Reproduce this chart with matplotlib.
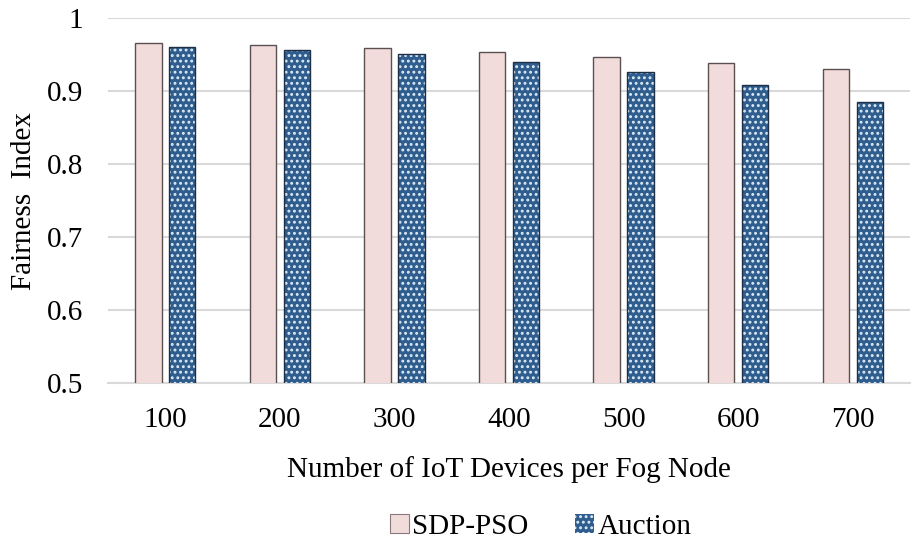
import numpy as np
import matplotlib.pyplot as plt
from matplotlib.patches import Patch

plt.rcParams['font.family'] = ['Liberation Serif', 'DejaVu Serif']
plt.rcParams['hatch.linewidth'] = 1.3

devices = ["100", "200", "300", "400", "500", "600", "700"]
sdp_pso = [0.966, 0.963, 0.959, 0.954, 0.947, 0.939, 0.930]
auction = [0.960, 0.956, 0.951, 0.940, 0.927, 0.908, 0.885]

fig = plt.figure(figsize=(9.23, 5.47), dpi=100)
ax = fig.add_axes([0.117, 0.300, 0.869, 0.6665])

x = np.arange(len(devices))
w = 0.23
off = 0.148

ax.bar(x - off, sdp_pso, w, color="#F2DCDB", edgecolor="#5a5050", linewidth=1.0, zorder=3)
# blue bars with white dot pattern, then outline on top
ax.bar(x + off, auction, w, color="#2F5D8E", edgecolor="#DDEBF7", linewidth=0, hatch="...", zorder=3)
ax.bar(x + off, auction, w, fill=False, edgecolor="#1f2f45", linewidth=1.0, zorder=4)

ax.set_xlim(-0.5, len(devices) - 0.5)
ax.set_ylim(0.5, 1.0)
ax.set_yticks([0.5, 0.6, 0.7, 0.8, 0.9, 1.0])
ax.set_yticklabels(["0.5", "0.6", "0.7", "0.8", "0.9", "1"])
ax.set_xticks(x)
ax.set_xticklabels(devices)
ax.tick_params(axis="both", length=0, labelsize=21, colors="black")
ax.tick_params(axis="x", pad=17)
ax.tick_params(axis="y", pad=18)

ax.grid(axis="y", color="#D9D9D9", linewidth=1.5, zorder=0)
for s in ["top", "right", "left"]:
    ax.spines[s].set_visible(False)
ax.spines["bottom"].set_color("#D9D9D9")
ax.spines["bottom"].set_linewidth(1.5)

ax.set_xlabel("Number of IoT Devices per Fog Node", fontsize=21, labelpad=17)
ax.set_ylabel("Fairness  Index", fontsize=21, labelpad=7)

handles = [
    Patch(facecolor="#F2DCDB", edgecolor="#8a7a7a", linewidth=0.8, label="SDP-PSO"),
    Patch(facecolor="#2F5D8E", edgecolor="#DDEBF7", linewidth=0, hatch="...", label="Auction"),
]
fig.legend(handles=handles, loc="center", bbox_to_anchor=(0.586, 0.037), ncol=2,
           frameon=False, fontsize=21, handlelength=0.65, handleheight=0.65,
           handletextpad=0.1, columnspacing=1.6)

fig.savefig("out.png", dpi=100)
